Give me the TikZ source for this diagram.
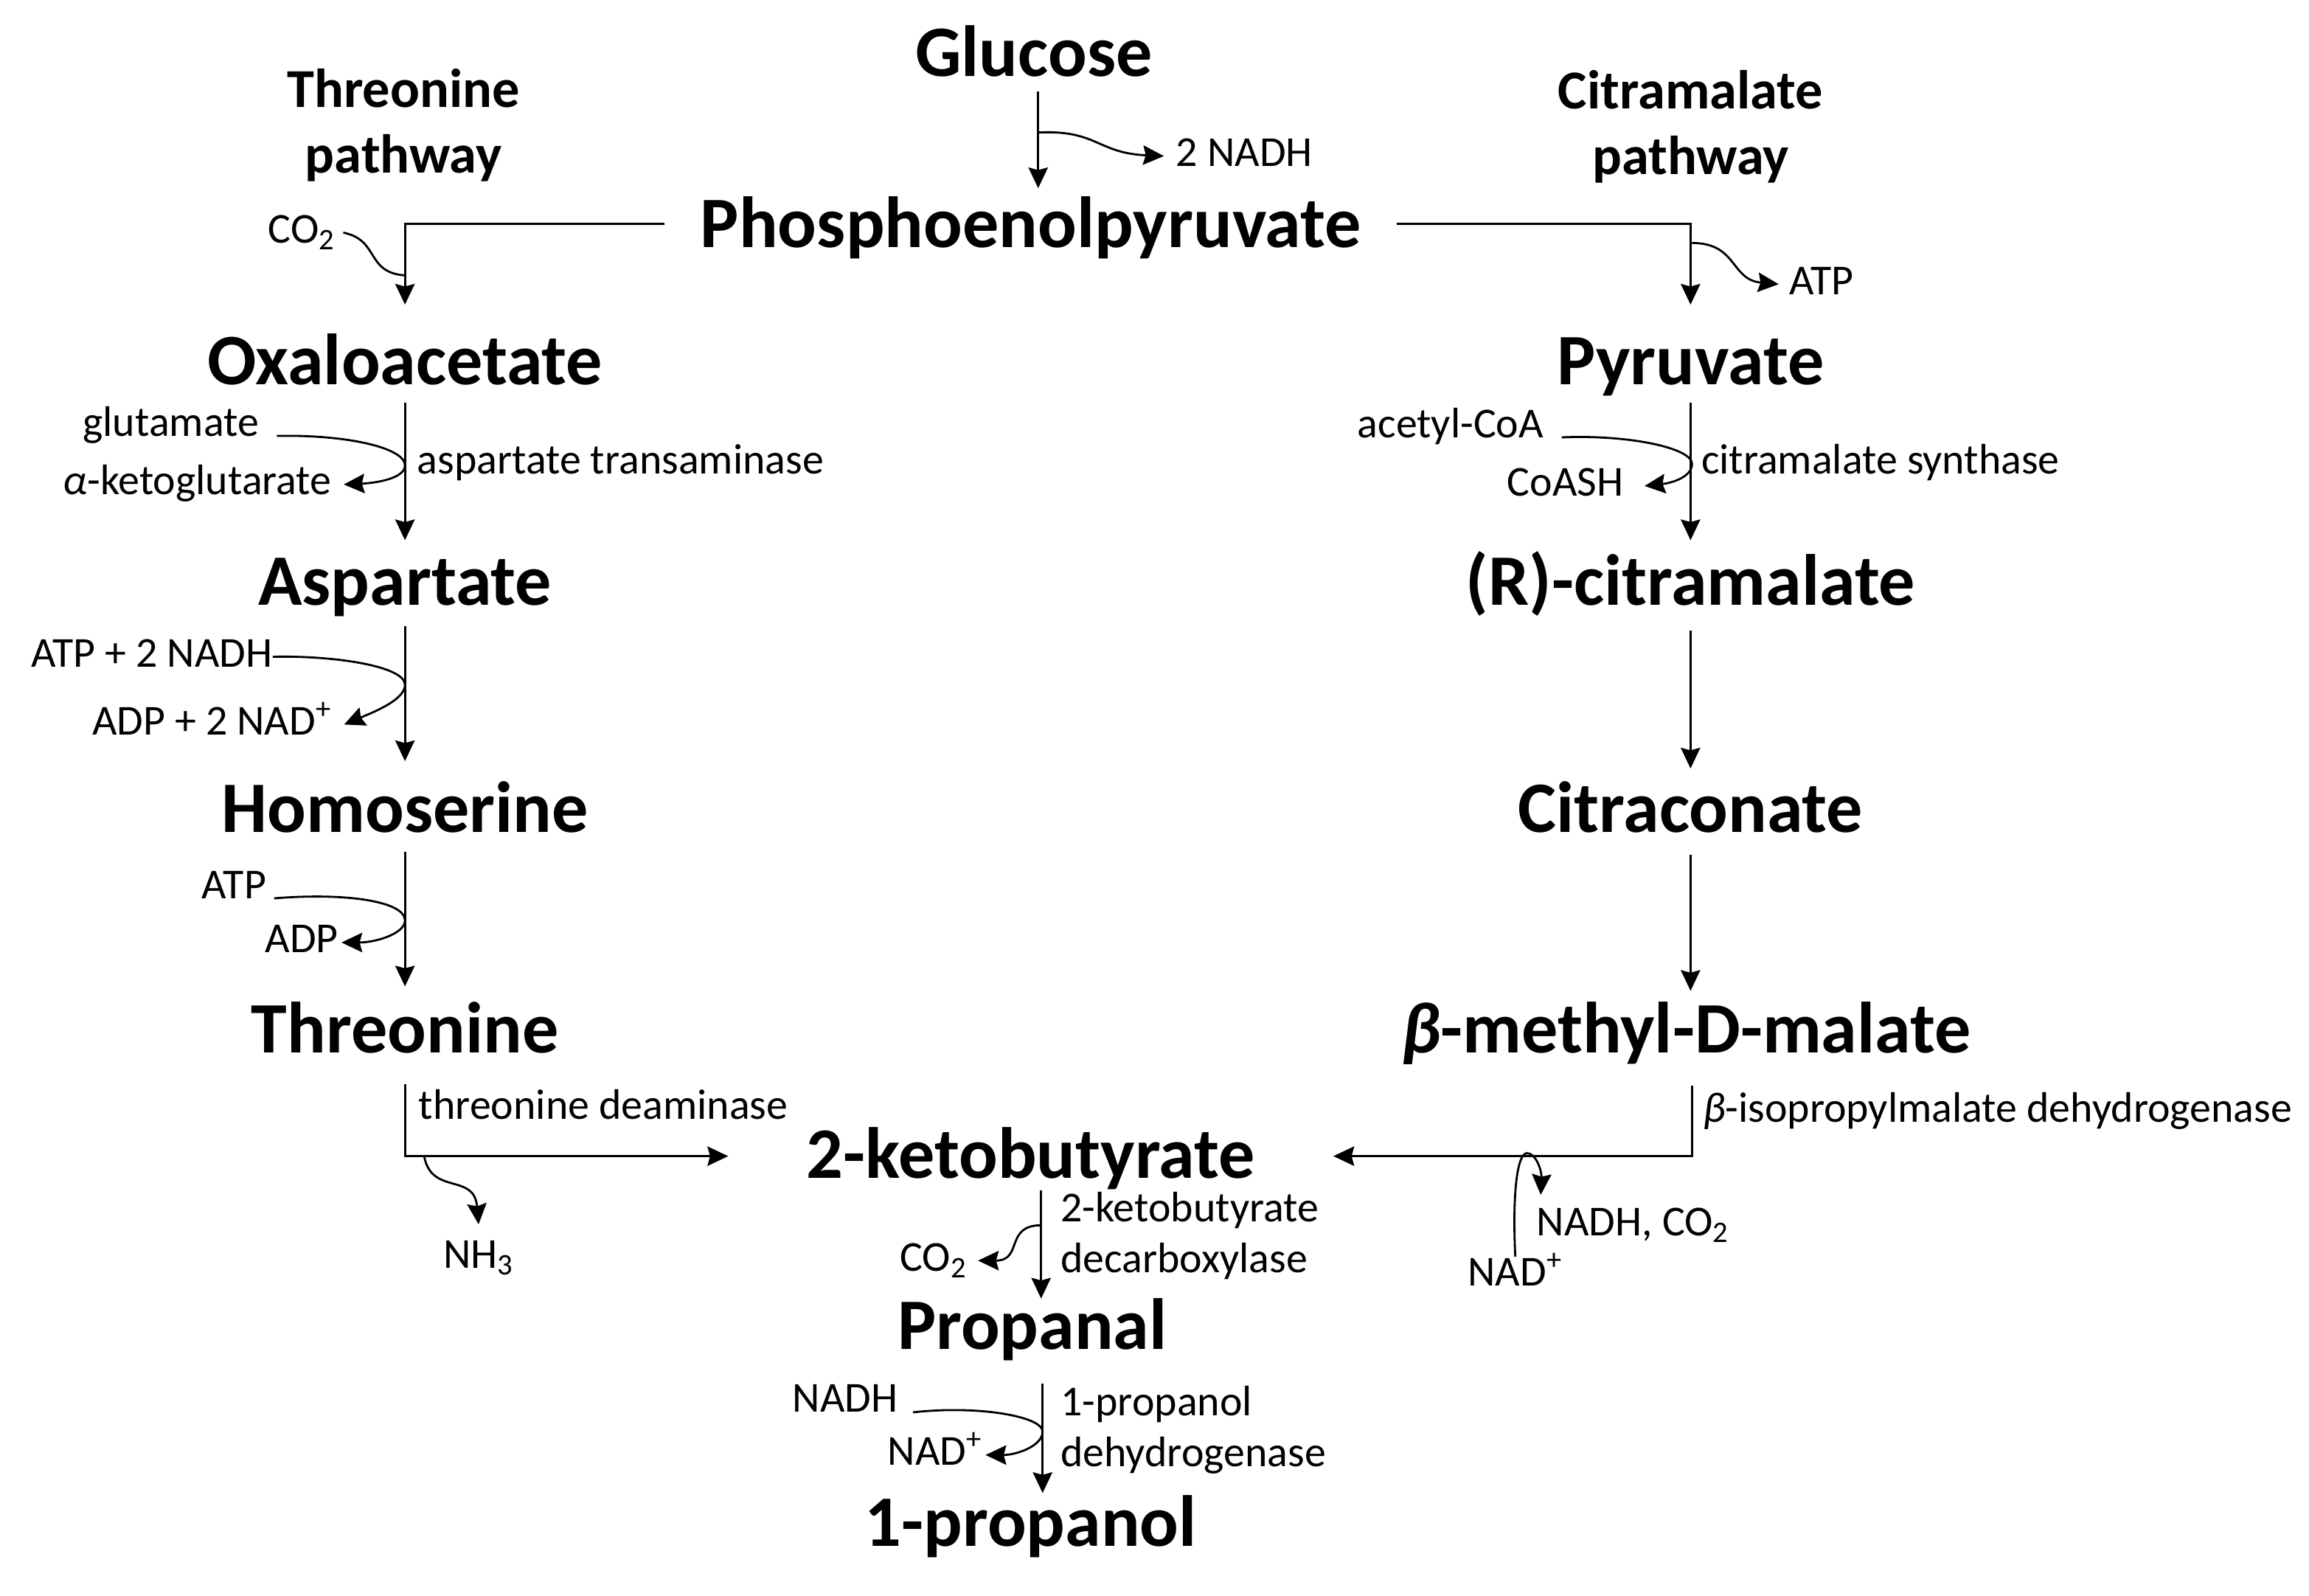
\documentclass[tikz,border=0pt]{standalone}
\usepackage{fontspec}
\setmainfont{Carlito}
\usetikzlibrary{arrows.meta,calc}
\begin{document}
\begin{tikzpicture}[x=0.02cm,y=-0.02cm]
      \tikzstyle{point} = [coordinate]
      \tikzstyle{main} = [anchor=base, inner ysep=0pt, inner xsep=0.16cm, font=\fontsize{28}{30}\selectfont\bfseries]
      \tikzstyle{head} = [align=center, font=\fontsize{21.2}{25.5}\selectfont\bfseries]
      \tikzstyle{lbl} = [anchor=base, inner ysep=0pt, inner xsep=0.16cm, text height=11pt, text depth=3pt, font=\fontsize{16.5}{18}\selectfont]
      \tikzstyle{note} = [anchor=west, align=left, inner sep=0pt, font=\fontsize{16.5}{19.8}\selectfont]
      \tikzstyle{line} = [line width=0.8pt]
      \tikzstyle{arrow} = [line width=0.8pt, -{Stealth[length=8pt,width=7.5pt,inset=1pt]}]
      \useasboundingbox (0,0) rectangle (1568,1083.7);
      % main nodes
      \node (glucose) [main, text height=1pt, text depth=10*0.567pt] at (702,52) {Glucose};
      \node (pep) [main, inner xsep=0.48cm, text height=40*0.567pt, text depth=8*0.567pt] at (700,168) {Phosphoenolpyruvate};
      \node (oxalo) [main, text height=54*0.567pt, text depth=12*0.567pt] at (275,261) {Oxaloacetate};
      \node (asp) [main, text height=44*0.567pt, text depth=14*0.567pt] at (275,411) {Aspartate};
      \node (homo) [main, text height=48*0.567pt, text depth=13*0.567pt] at (275,565) {Homoserine};
      \node (thr) [main, text height=45*0.567pt, text depth=21*0.567pt] at (275,715) {Threonine};
      \node (pyr) [main, text height=54*0.567pt, text depth=12*0.567pt] at (1148,261) {Pyruvate};
      \node (cit) [main, text height=44*0.567pt, text depth=17*0.567pt] at (1148,411) {(R)-citramalate};
      \node (citra) [main, text height=43*0.567pt, text depth=15*0.567pt] at (1148,565) {Citraconate};
      \node (beta) [main, text height=42*0.567pt, text depth=22*0.567pt] at (1145,715) {\textit{β}-methyl-D-malate};
      \node (keto) [main, inner xsep=1.06cm, text height=38*0.567pt, text depth=8*0.567pt] at (700,800) {2-ketobutyrate};
      \node (prop) [main, text height=34*0.567pt, text depth=23*0.567pt] at (701,916) {Propanal};
      \node (ol) [main, text height=36*0.567pt, text depth=3pt] at (700,1050) {1-propanol};
      \node (thrhead) [head] at (274,85) {Threonine\\pathway};
      \node (cithead) [head] at (1148,86) {Citramalate\\pathway};
      % side labels
      \node (nadh1) [lbl] at (845,113) {2 NADH};
      \node (co2a) [lbl, inner xsep=0.1cm] at (205,165) {CO\textsubscript{2}};
      \node (atp1) [lbl, inner xsep=0.14cm] at (1237,200) {ATP};
      \node (glu) [lbl, inner xsep=0.24cm] at (116,296) {glutamate};
      \node (akg) [lbl] at (134,336) {\textit{α}-ketoglutarate};
      \node (ast) [lbl, anchor=base west] at (275,322) {aspartate transaminase};
      \node (aca) [lbl, inner xsep=0.24cm] at (985,297) {acetyl-CoA};
      \node (coa) [lbl, inner xsep=0.28cm] at (1063,337) {CoASH};
      \node (cms) [lbl, anchor=base west] at (1147,322) {citramalate synthase};
      \node (atp2) [lbl, inner xsep=0pt] at (103,453) {ATP + 2 NADH};
      \node (adp2) [lbl, inner xsep=0.16cm] at (144,499) {ADP + 2 NAD\textsuperscript{+}};
      \node (atp3) [lbl, inner xsep=0.1cm] at (159,610) {ATP};
      \node (adp3) [lbl, inner xsep=1pt] at (205,647) {ADP};
      \node (thd) [lbl, anchor=base west] at (276,760) {threonine deaminase};
      \node (nh) [lbl, inner ysep=0.2cm] at (325,861) {NH\textsubscript{3}};
      \node (bid) [lbl, anchor=base west] at (1148,762) {\textit{β}-isopropylmalate dehydrogenase};
      \node (nco) [lbl, inner xsep=0pt, inner ysep=0.16cm] at (1109,839) {NADH, CO\textsubscript{2}};
      \node (nad1) [lbl, inner ysep=0pt] at (1029,873) {NAD\textsuperscript{+}};
      \node (kdc) [note] at (720,839) {2-ketobutyrate\\decarboxylase};
      \node (co2b) [lbl, inner xsep=0.14cm] at (634,863) {CO\textsubscript{2}};
      \node (nadh2) [lbl, inner xsep=0.2cm] at (574,959) {NADH};
      \node (nad2) [lbl, inner xsep=1pt] at (635,995) {NAD\textsuperscript{+}};
      \node (pdh) [note] at (720,971) {1-propanol\\dehydrogenase};
      % points on the arrows
      \node (p1) [point] at (705,90) {};
      \node (p2) [point] at (275,187) {};
      \node (p3) [point] at (1149,165) {};
      \node (p4) [point] at (288,785) {};
      \node (p5) [point] at (1037,783) {};
      \node (p6) [point] at (707,832) {};
      % main arrows
      \draw [arrow] ($(glucose.south)+(3,0)$)--($(pep.north)+(5,0)$);
      \draw [arrow] (pep.west)-|(oxalo.north);
      \draw [arrow] (pep.east)-|(pyr.north);
      \draw [arrow] (oxalo.south)--(asp.north);
      \draw [arrow] (asp.south)--(homo.north);
      \draw [arrow] (homo.south)--(thr.north);
      \draw [arrow] (pyr.south)--(cit.north);
      \draw [arrow] (cit.south)--(citra.north);
      \draw [arrow] (citra.south)--($(beta.north)+(3,0)$);
      \draw [arrow] (thr.south)|-(keto.west);
      \draw [arrow] ($(beta.south)+(4,0)$)|-(keto.east);
      \draw [arrow] ($(keto.south)+(7,0)$)--($(prop.north)+(6,0)$);
      \draw [arrow] ($(prop.south)+(7,0)$)--($(ol.north)+(8,0)$);
      % side arrows
      \draw [arrow] (p1) .. controls (745,88) and (745,104) .. (nadh1.west);
      \draw [line] (co2a.east) .. controls (258,163) and (248,185) .. (p2);
      \draw [arrow] (p3) .. controls (1180,165) and (1175,190) .. (atp1.west);
      \draw [arrow] (glu.base east) .. controls (235,295) and (275,304) .. (275,316) .. controls (275,325) and (255,328) .. (akg.east);
      \draw [arrow] (aca.base east) .. controls (1105,295) and (1149,304) .. (1149,315) .. controls (1149,324) and (1135,328) .. (coa.east);
      \draw [arrow] (atp2.east) .. controls (225,445) and (275,452) .. (275,465) .. controls (275,475) and (255,483) .. (adp2.east);
      \draw [arrow] (atp3.base east) .. controls (235,606) and (275,612) .. (275,625) .. controls (275,634) and (255,640) .. (adp3.east);
      \draw [arrow] (p4) .. controls (293,812) and (322,796) .. (nh.north);
      \draw [arrow] (nad1.north) .. controls (1027,812) and (1030,783) .. (p5) .. controls (1043,783) and (1047,795) .. ($(nco.north west)+(3,0)$);
      \draw [arrow] (p6) .. controls (682,832) and (695,856) .. (co2b.east);
      \draw [arrow] (nadh2.base east) .. controls (665,954) and (708,962) .. (708,972) .. controls (708,982) and (690,988) .. (nad2.east);
    \end{tikzpicture}
\end{document}
